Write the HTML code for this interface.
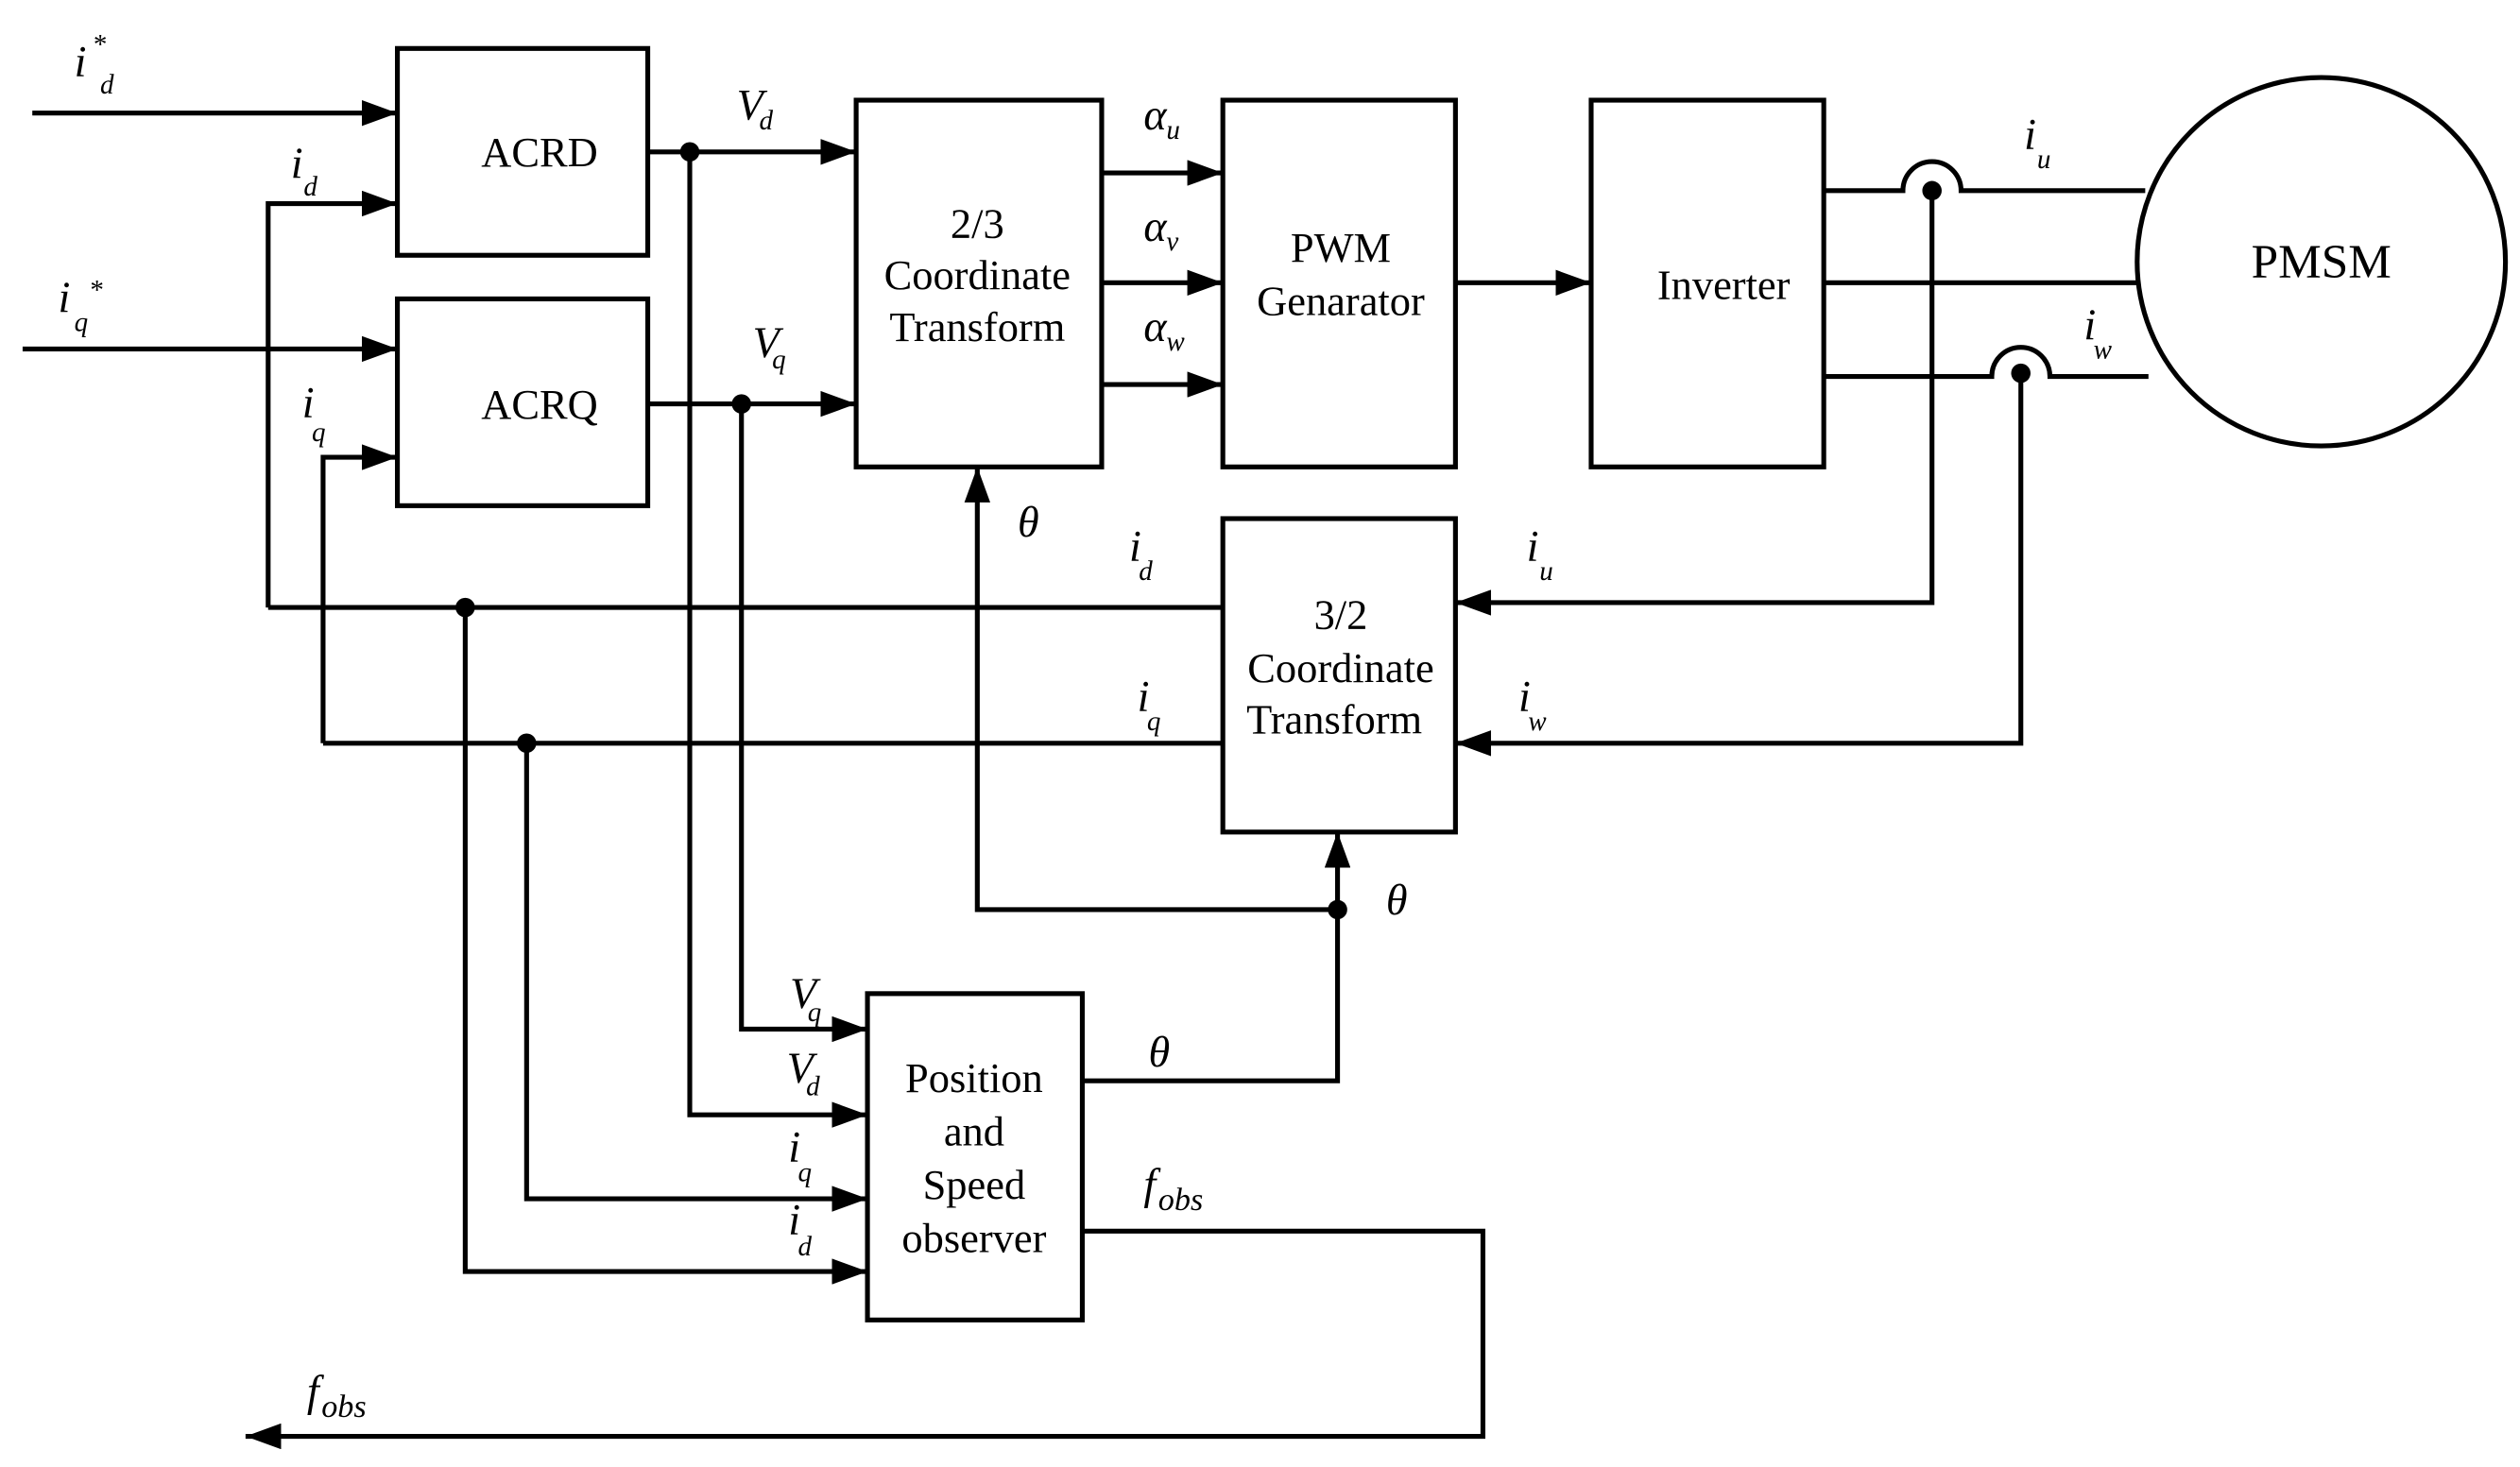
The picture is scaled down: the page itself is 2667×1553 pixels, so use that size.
<!DOCTYPE html>
<html><head><meta charset="utf-8"><style>
html,body{margin:0;padding:0;background:#fff;}
svg{display:block;}
text{font-family:"Liberation Serif",serif;fill:#000;}
.t{font-size:26px;text-anchor:middle;}
.i{font-style:italic;font-size:27px;}
.s{font-style:italic;font-size:17px;}
</style></head><body>
<svg width="2667" height="1553" viewBox="0 0 1560 908" preserveAspectRatio="none" xmlns="http://www.w3.org/2000/svg">
<defs><marker id="a" markerWidth="22" markerHeight="16" refX="22" refY="8" orient="auto" markerUnits="userSpaceOnUse"><path d="M0,0L22,8L0,16z" fill="#000"/></marker></defs>
<g fill="none" stroke="#000" stroke-width="3">
<rect x="246" y="30" width="155" height="128"/>
<rect x="246" y="185" width="155" height="128"/>
<rect x="530" y="62" width="152" height="227"/>
<rect x="757" y="62" width="144" height="227"/>
<rect x="985" y="62" width="144" height="227"/>
<rect x="757" y="321" width="144" height="194"/>
<rect x="537" y="615" width="133" height="202"/>
<circle cx="1437" cy="162" r="114"/>
<line x1="20" y1="70" x2="246" y2="70" marker-end="url(#a)"/>
<polyline points="166,376 166,126 246,126" marker-end="url(#a)"/>
<line x1="14" y1="216" x2="246" y2="216" marker-end="url(#a)"/>
<polyline points="200,460 200,283 246,283" marker-end="url(#a)"/>
<line x1="401" y1="94" x2="530" y2="94" marker-end="url(#a)"/>
<line x1="401" y1="250" x2="530" y2="250" marker-end="url(#a)"/>
<polyline points="427,94 427,690 537,690" marker-end="url(#a)"/>
<polyline points="459,250 459,637 537,637" marker-end="url(#a)"/>
<line x1="682" y1="107" x2="757" y2="107" marker-end="url(#a)"/>
<line x1="682" y1="175" x2="757" y2="175" marker-end="url(#a)"/>
<line x1="682" y1="238" x2="757" y2="238" marker-end="url(#a)"/>
<line x1="901" y1="175" x2="985" y2="175" marker-end="url(#a)"/>
<path d="M1129,118 L1178,118 A18,18 0 1 1 1214,118 L1328,118"/>
<line x1="1129" y1="175" x2="1323" y2="175"/>
<path d="M1129,233 L1233,233 A18,18 0 1 1 1269,233 L1330,233"/>
<polyline points="1196,118 1196,373 901,373" marker-end="url(#a)"/>
<polyline points="1251,231 1251,460 901,460" marker-end="url(#a)"/>
<line x1="757" y1="376" x2="166" y2="376"/>
<line x1="757" y1="460" x2="200" y2="460"/>
<polyline points="828,563 605,563 605,289" marker-end="url(#a)"/>
<line x1="828" y1="563" x2="828" y2="515" marker-end="url(#a)"/>
<polyline points="670,669 828,669 828,563"/>
<polyline points="326,460 326,742 537,742" marker-end="url(#a)"/>
<polyline points="288,376 288,787 537,787" marker-end="url(#a)"/>
<polyline points="670,762 918,762 918,889 152,889" marker-end="url(#a)"/>
</g>
<g fill="#000">
<circle cx="427" cy="94" r="6"/><circle cx="459" cy="250" r="6"/>
<circle cx="1196" cy="118" r="6"/><circle cx="1251" cy="231" r="6"/>
<circle cx="288" cy="376" r="6"/><circle cx="326" cy="460" r="6"/>
<circle cx="828" cy="563" r="6"/>
</g>
<text class="t" x="334" y="103">ACRD</text>
<text class="t" x="334" y="259">ACRQ</text>
<text class="t" x="605" y="147">2/3</text>
<text class="t" x="605" y="179">Coordinate</text>
<text class="t" x="605" y="211">Transform</text>
<text class="t" x="830" y="162">PWM</text>
<text class="t" x="830" y="195">Genarator</text>
<text class="t" x="1067" y="185">Inverter</text>
<text class="t" x="1437" y="172" style="font-size:30px">PMSM</text>
<text class="t" x="830" y="389">3/2</text>
<text class="t" x="830" y="422">Coordinate</text>
<text class="t" x="826" y="454">Transform</text>
<text class="t" x="603" y="676">Position</text>
<text class="t" x="603" y="709">and</text>
<text class="t" x="603" y="742">Speed</text>
<text class="t" x="603" y="775">observer</text>
<text class="i" x="46" y="47">i</text><text class="s" x="62" y="58">d</text><text class="s" x="57" y="33">*</text>
<text class="i" x="36" y="193">i</text><text class="s" x="46" y="205">q</text><text class="s" x="55" y="185">*</text>
<text class="i" x="180" y="110">i</text><text class="s" x="188" y="121">d</text>
<text class="i" x="187" y="258">i</text><text class="s" x="193" y="273">q</text>
<text class="i" x="456" y="74">V</text><text class="s" x="470" y="80">d</text>
<text class="i" x="466" y="221">V</text><text class="s" x="478" y="228">q</text>
<text class="i" x="708" y="80">α</text><text class="s" x="722" y="86">u</text>
<text class="i" x="708" y="149">α</text><text class="s" x="722" y="155">v</text>
<text class="i" x="708" y="211">α</text><text class="s" x="722" y="217">w</text>
<text class="i" x="1253" y="92">i</text><text class="s" x="1261" y="104">u</text>
<text class="i" x="1290" y="210">i</text><text class="s" x="1296" y="222">w</text>
<text class="i" x="945" y="347">i</text><text class="s" x="953" y="359">u</text>
<text class="i" x="940" y="440">i</text><text class="s" x="946" y="452">w</text>
<text class="i" x="699" y="347">i</text><text class="s" x="705" y="359">d</text>
<text class="i" x="704" y="440">i</text><text class="s" x="710" y="452">q</text>
<text class="i" x="630" y="332">θ</text>
<text class="i" x="858" y="566">θ</text>
<text class="i" x="711" y="660">θ</text>
<text class="i" x="489" y="624">V</text><text class="s" x="500" y="632">q</text>
<text class="i" x="487" y="670">V</text><text class="s" x="499" y="678">d</text>
<text class="i" x="488" y="719">i</text><text class="s" x="494" y="731">q</text>
<text class="i" x="488" y="764">i</text><text class="s" x="494" y="777">d</text>
<text class="i" x="708" y="742">f</text><text class="s" x="717" y="749" style="font-size:20px">obs</text>
<text class="i" x="190" y="870">f</text><text class="s" x="199" y="877" style="font-size:20px">obs</text>
</svg>
</body></html>
